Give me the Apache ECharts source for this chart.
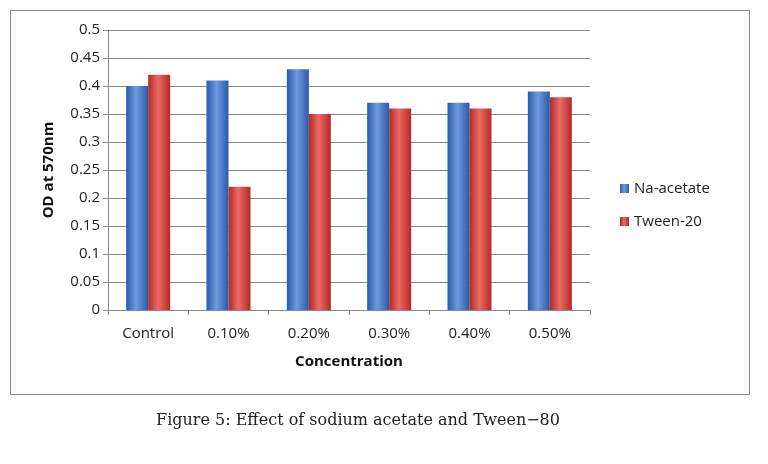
<!DOCTYPE html>
<html><head><meta charset="utf-8">
<script src="https://cdn.jsdelivr.net/npm/echarts@6/dist/echarts.min.js"></script>
<style>
html,body{margin:0;padding:0;background:#fff;}
#frame{position:absolute;left:10px;top:10px;width:740px;height:385px;border:1px solid #888;box-sizing:border-box;}
#c{position:absolute;left:0;top:0;width:768px;height:464px;}
#cap{position:absolute;left:0;width:716px;top:410px;text-align:center;font-family:"DejaVu Serif","Liberation Serif",serif;font-size:16px;color:#222;}
</style></head><body>
<div id="frame"></div>
<div id="c"></div>
<div id="cap">Figure 5: Effect of sodium acetate and Tween−80</div>
<script>
const categories=['Control','0.10%','0.20%','0.30%','0.40%','0.50%'];
const naAcetate=[0.40,0.41,0.43,0.37,0.37,0.39];
const tween20=[0.42,0.22,0.35,0.36,0.36,0.38];
function grad(d,l){return new echarts.graphic.LinearGradient(0,0,1,0,[{offset:0,color:d},{offset:0.45,color:l},{offset:1,color:d}]);}
const chart=echarts.init(document.getElementById('c'));
chart.setOption({
  animation:false,
  grid:{left:108,top:30,width:482,height:280},
  legend:{orient:'vertical',left:615,top:176,itemGap:18,itemWidth:9,itemHeight:9,icon:'rect',
    textStyle:{fontFamily:'Open Sans',fontSize:15,color:'#222'},data:['Na-acetate','Tween-20']},
  xAxis:{type:'category',data:categories,name:'Concentration',nameLocation:'middle',nameGap:44,
    nameTextStyle:{fontFamily:'Open Sans',fontWeight:'bold',fontSize:15,color:'#111'},
    axisLine:{lineStyle:{color:'#888'}},axisTick:{show:true,alignWithLabel:false,lineStyle:{color:'#888'}},
    axisLabel:{fontFamily:'Open Sans',fontSize:15,color:'#222',margin:16}},
  yAxis:{type:'value',min:0,max:0.5,interval:0.05,name:'OD at 570nm',nameLocation:'middle',nameGap:52,
    nameTextStyle:{fontFamily:'Open Sans',fontWeight:'bold',fontSize:15,color:'#111'},
    axisLine:{show:true,lineStyle:{color:'#888'}},axisTick:{show:true,lineStyle:{color:'#888'}},
    splitLine:{lineStyle:{color:'#888'}},
    axisLabel:{fontFamily:'Open Sans',fontSize:15,color:'#222',formatter:v=>String(+v.toFixed(2))}},
  series:[
    {name:'Na-acetate',type:'bar',data:naAcetate,barWidth:22,barGap:'0%',
     itemStyle:{color:grad('#2a5aa8','#6d9be0')}},
    {name:'Tween-20',type:'bar',data:tween20,barWidth:22,
     itemStyle:{color:grad('#b02a28','#ec6a66')}}
  ]
});
</script></body></html>
